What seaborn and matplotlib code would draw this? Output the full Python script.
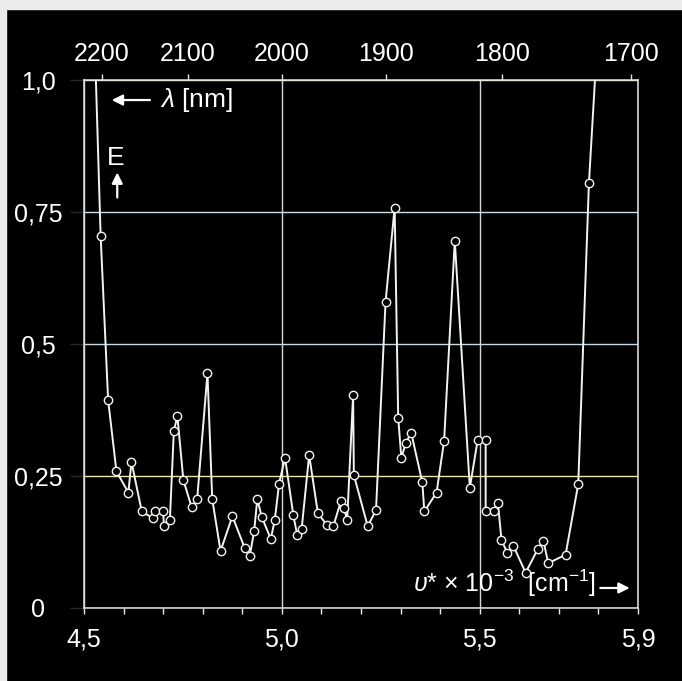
import matplotlib
matplotlib.use("Agg")
from matplotlib import pyplot as plt
from matplotlib.patches import Rectangle
import seaborn as sns

# wavenumber (x 10^3 cm^-1) and extinction E
wavenumber = [4.524, 4.542, 4.561, 4.582, 4.612, 4.620, 4.646, 4.675, 4.679, 4.700,
              4.702, 4.717, 4.727, 4.736, 4.751, 4.772, 4.786, 4.812, 4.824, 4.845,
              4.875, 4.906, 4.919, 4.930, 4.938, 4.949, 4.972, 4.982, 4.993, 5.008,
              5.029, 5.039, 5.050, 5.069, 5.091, 5.113, 5.130, 5.149, 5.157, 5.165,
              5.180, 5.182, 5.217, 5.238, 5.262, 5.285, 5.294, 5.302, 5.313, 5.327,
              5.355, 5.360, 5.391, 5.410, 5.437, 5.475, 5.495, 5.515, 5.515, 5.535,
              5.546, 5.555, 5.570, 5.585, 5.616, 5.647, 5.661, 5.673, 5.717, 5.749,
              5.776, 5.803]
extinction = [1.15, 0.705, 0.393, 0.258, 0.218, 0.276, 0.182, 0.169, 0.183, 0.183,
              0.154, 0.166, 0.334, 0.363, 0.242, 0.190, 0.206, 0.444, 0.206, 0.107,
              0.173, 0.113, 0.098, 0.145, 0.206, 0.172, 0.130, 0.165, 0.235, 0.284,
              0.175, 0.137, 0.149, 0.289, 0.179, 0.157, 0.154, 0.201, 0.189, 0.165,
              0.402, 0.251, 0.154, 0.185, 0.579, 0.758, 0.360, 0.283, 0.312, 0.331,
              0.237, 0.182, 0.218, 0.316, 0.695, 0.227, 0.318, 0.318, 0.182, 0.182,
              0.198, 0.128, 0.103, 0.117, 0.066, 0.111, 0.127, 0.084, 0.100, 0.234,
              0.805, 1.15]

x_ticks = [4.5, 5.0, 5.5, 5.9]
x_labels = ["4,5", "5,0", "5,5", "5,9"]
x_minor = [4.6, 4.7, 4.8, 4.9, 5.1, 5.2, 5.3, 5.4, 5.6, 5.7, 5.8]
y_ticks = [0, 0.25, 0.5, 0.75, 1.0]
y_labels = ["0", "0,25", "0,5", "0,75", "1,0"]
nm_ticks = [2200, 2100, 2000, 1900, 1800, 1700]
nm_labels = ["2200", "2100", "2000", "1900", "1800", "1700"]

sns.set_theme(style="ticks", rc={"axes.facecolor": "black", "figure.facecolor": "black",
                                 "savefig.facecolor": "black"})
plt.rcParams['font.family'] = ['Liberation Sans', 'DejaVu Sans']
plt.rcParams['mathtext.fontset'] = 'custom'
plt.rcParams['mathtext.rm'] = 'Liberation Sans'
plt.rcParams['mathtext.it'] = 'Liberation Sans:italic'

W = "#f4f4ee"
FS = 18
fig = plt.figure(figsize=(6.82, 6.81), dpi=100)
ax = fig.add_axes([84/682, 1 - 607.5/681, 554/682, 527.5/681])

# thin light paper edge on top and left of the scan
fig.patches.append(Rectangle((0, 1 - 9/681), 1, 9/681, transform=fig.transFigure,
                             color="#ececec", zorder=0))
fig.patches.append(Rectangle((0, 0), 6/682, 1, transform=fig.transFigure,
                             color="#ececec", zorder=0))

sns.lineplot(x=wavenumber, y=extinction, sort=False, estimator=None, ax=ax,
             color=W, lw=1.4, marker="o", markersize=6, markerfacecolor="black",
             markeredgecolor=W, markeredgewidth=1.0, zorder=5)

ax.set_xlim(4.5, 5.9)
ax.set_ylim(0, 1.0)
ax.set_xlabel("")
ax.set_ylabel("")

for side in ["left", "right", "top", "bottom"]:
    ax.spines[side].set_color("#e6e6dc")
    ax.spines[side].set_linewidth(1.1)
    ax.spines[side].set_visible(True)

ax.set_xticks(x_ticks)
ax.set_xticklabels(x_labels)
ax.set_xticks(x_minor, minor=True)
ax.tick_params(axis="x", which="both", direction="out", length=4.5, width=1.0,
               color="#e6e6dc", labelcolor="white", labelsize=FS, pad=10)

ax.set_yticks(y_ticks)
ax.set_yticklabels(y_labels)
ax.tick_params(axis="y", direction="out", length=10, width=1.0, labelcolor="white",
               labelsize=FS, pad=23)
for lab in ax.get_yticklabels():
    lab.set_horizontalalignment("center")

ax.grid(True, which="major", lw=1.0)
grid_y = ["#e8e4c8", "#ece6b0", "#c6dced", "#cde0ee", "#e8e8dc"]
for t, c in zip(ax.yaxis.get_major_ticks(), grid_y):
    t.gridline.set_color(c)
    t.tick1line.set_color(c)
for t in ax.xaxis.get_major_ticks():
    t.gridline.set_color("#d8d8d8")

sec = ax.secondary_xaxis("top", functions=(lambda v: 1e4 / v, lambda l: 1e4 / l))
sec.set_xticks(nm_ticks)
sec.set_xticklabels(nm_labels)
sec.tick_params(direction="out", length=4, width=1.0, color="#e6e6dc",
                labelcolor="white", labelsize=FS, pad=6)
sec.spines["top"].set_visible(False)

# axis annotations inside the frame
ax.text(0.137, 0.962, r"$\lambda$ [nm]", transform=ax.transAxes, color="white",
        fontsize=19, va="center", ha="left")
ax.annotate("", xy=(0.045, 0.962), xytext=(0.124, 0.962), xycoords="axes fraction",
            arrowprops=dict(arrowstyle="-|>", color="white", lw=1.6, mutation_scale=16))
ax.text(0.057, 0.852, "E", transform=ax.transAxes, color="white",
        fontsize=19, va="center", ha="center")
ax.annotate("", xy=(0.060, 0.83), xytext=(0.060, 0.772), xycoords="axes fraction",
            arrowprops=dict(arrowstyle="-|>", color="white", lw=1.6, mutation_scale=16))
ax.text(0.594, 0.046, r"$\upsilon$* × 10$^{-3}$  [cm$^{-1}$]", transform=ax.transAxes,
        color="white", fontsize=18, va="center", ha="left")
ax.annotate("", xy=(0.99, 0.037), xytext=(0.927, 0.037), xycoords="axes fraction",
            arrowprops=dict(arrowstyle="-|>", color="white", lw=1.6, mutation_scale=16))

fig.savefig("out.png", dpi=100)
